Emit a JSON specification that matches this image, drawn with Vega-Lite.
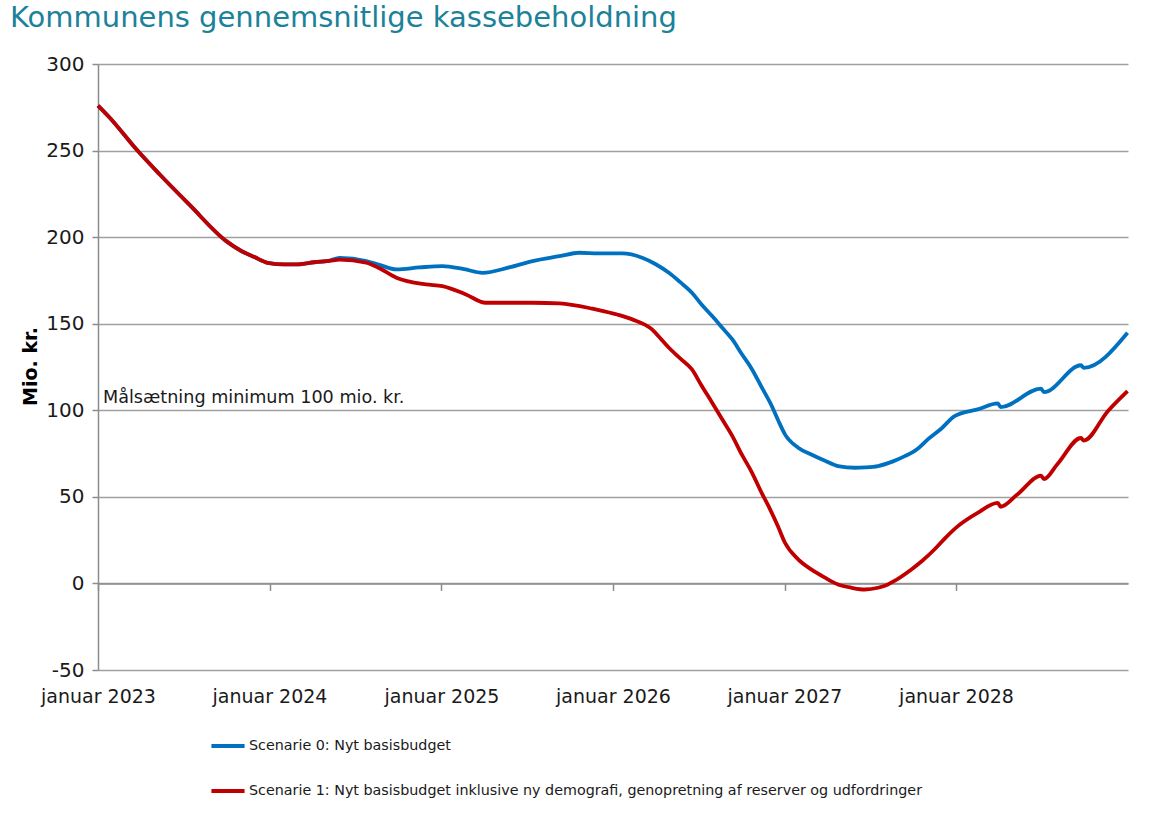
{
  "$schema": "https://vega.github.io/schema/vega-lite/v6.json",
  "autosize": "none",
  "width": 1030,
  "height": 606,
  "padding": {"left": 98, "top": 64, "right": 25, "bottom": 147},
  "background": "white",
  "title": {
    "text": "Kommunens gennemsnitlige kassebeholdning",
    "anchor": "start",
    "frame": "group",
    "font": "DejaVu Sans",
    "fontSize": 29,
    "fontWeight": "normal",
    "color": "#1B8299",
    "baseline": "alphabetic",
    "offset": -2,
    "dx": -88
  },
  "config": {"view": {"stroke": null}, "font": "DejaVu Sans"},
  "datasets": {
    "s0": [
      {"date": "2023-01-01", "scenario": "Scenarie 0: Nyt basisbudget", "value": 276},
      {"date": "2023-01-26", "scenario": "Scenarie 0: Nyt basisbudget", "value": 269},
      {"date": "2023-03-26", "scenario": "Scenarie 0: Nyt basisbudget", "value": 250},
      {"date": "2023-05-12", "scenario": "Scenarie 0: Nyt basisbudget", "value": 236.3},
      {"date": "2023-07-15", "scenario": "Scenarie 0: Nyt basisbudget", "value": 218.6},
      {"date": "2023-10-01", "scenario": "Scenarie 0: Nyt basisbudget", "value": 197.7},
      {"date": "2023-11-02", "scenario": "Scenarie 0: Nyt basisbudget", "value": 192},
      {"date": "2023-11-30", "scenario": "Scenarie 0: Nyt basisbudget", "value": 188.5},
      {"date": "2023-12-28", "scenario": "Scenarie 0: Nyt basisbudget", "value": 185.2},
      {"date": "2024-02-02", "scenario": "Scenarie 0: Nyt basisbudget", "value": 184.3},
      {"date": "2024-03-01", "scenario": "Scenarie 0: Nyt basisbudget", "value": 184.3},
      {"date": "2024-04-05", "scenario": "Scenarie 0: Nyt basisbudget", "value": 185.5},
      {"date": "2024-05-08", "scenario": "Scenarie 0: Nyt basisbudget", "value": 186.5},
      {"date": "2024-05-29", "scenario": "Scenarie 0: Nyt basisbudget", "value": 188},
      {"date": "2024-07-25", "scenario": "Scenarie 0: Nyt basisbudget", "value": 186.2},
      {"date": "2024-08-22", "scenario": "Scenarie 0: Nyt basisbudget", "value": 184},
      {"date": "2024-09-27", "scenario": "Scenarie 0: Nyt basisbudget", "value": 181.4},
      {"date": "2024-11-15", "scenario": "Scenarie 0: Nyt basisbudget", "value": 182.5},
      {"date": "2025-01-03", "scenario": "Scenarie 0: Nyt basisbudget", "value": 183.3},
      {"date": "2025-02-18", "scenario": "Scenarie 0: Nyt basisbudget", "value": 181.5},
      {"date": "2025-03-29", "scenario": "Scenarie 0: Nyt basisbudget", "value": 179.4},
      {"date": "2025-05-25", "scenario": "Scenarie 0: Nyt basisbudget", "value": 182.5},
      {"date": "2025-07-14", "scenario": "Scenarie 0: Nyt basisbudget", "value": 186.2},
      {"date": "2025-09-09", "scenario": "Scenarie 0: Nyt basisbudget", "value": 189},
      {"date": "2025-10-21", "scenario": "Scenarie 0: Nyt basisbudget", "value": 191},
      {"date": "2025-12-02", "scenario": "Scenarie 0: Nyt basisbudget", "value": 190.6},
      {"date": "2026-01-21", "scenario": "Scenarie 0: Nyt basisbudget", "value": 190.6},
      {"date": "2026-03-04", "scenario": "Scenarie 0: Nyt basisbudget", "value": 188.1},
      {"date": "2026-04-01", "scenario": "Scenarie 0: Nyt basisbudget", "value": 184.5},
      {"date": "2026-04-30", "scenario": "Scenarie 0: Nyt basisbudget", "value": 179.4},
      {"date": "2026-05-24", "scenario": "Scenarie 0: Nyt basisbudget", "value": 174},
      {"date": "2026-06-18", "scenario": "Scenarie 0: Nyt basisbudget", "value": 167.9},
      {"date": "2026-07-08", "scenario": "Scenarie 0: Nyt basisbudget", "value": 161.2},
      {"date": "2026-07-31", "scenario": "Scenarie 0: Nyt basisbudget", "value": 154.4},
      {"date": "2026-08-22", "scenario": "Scenarie 0: Nyt basisbudget", "value": 147.5},
      {"date": "2026-09-12", "scenario": "Scenarie 0: Nyt basisbudget", "value": 140.9},
      {"date": "2026-10-02", "scenario": "Scenarie 0: Nyt basisbudget", "value": 132.5},
      {"date": "2026-10-24", "scenario": "Scenarie 0: Nyt basisbudget", "value": 123.6},
      {"date": "2026-11-13", "scenario": "Scenarie 0: Nyt basisbudget", "value": 113.5},
      {"date": "2026-12-05", "scenario": "Scenarie 0: Nyt basisbudget", "value": 102.4},
      {"date": "2026-12-18", "scenario": "Scenarie 0: Nyt basisbudget", "value": 94.5},
      {"date": "2027-01-02", "scenario": "Scenarie 0: Nyt basisbudget", "value": 86.1},
      {"date": "2027-01-30", "scenario": "Scenarie 0: Nyt basisbudget", "value": 78.4},
      {"date": "2027-02-27", "scenario": "Scenarie 0: Nyt basisbudget", "value": 74.5},
      {"date": "2027-03-27", "scenario": "Scenarie 0: Nyt basisbudget", "value": 71},
      {"date": "2027-04-25", "scenario": "Scenarie 0: Nyt basisbudget", "value": 67.8},
      {"date": "2027-05-31", "scenario": "Scenarie 0: Nyt basisbudget", "value": 66.8},
      {"date": "2027-06-21", "scenario": "Scenarie 0: Nyt basisbudget", "value": 67},
      {"date": "2027-07-19", "scenario": "Scenarie 0: Nyt basisbudget", "value": 67.8},
      {"date": "2027-08-20", "scenario": "Scenarie 0: Nyt basisbudget", "value": 70.5},
      {"date": "2027-09-14", "scenario": "Scenarie 0: Nyt basisbudget", "value": 73.5},
      {"date": "2027-10-10", "scenario": "Scenarie 0: Nyt basisbudget", "value": 77.5},
      {"date": "2027-11-02", "scenario": "Scenarie 0: Nyt basisbudget", "value": 83.2},
      {"date": "2027-12-01", "scenario": "Scenarie 0: Nyt basisbudget", "value": 89.5},
      {"date": "2027-12-29", "scenario": "Scenarie 0: Nyt basisbudget", "value": 96.6},
      {"date": "2028-02-16", "scenario": "Scenarie 0: Nyt basisbudget", "value": 100.5},
      {"date": "2028-03-30", "scenario": "Scenarie 0: Nyt basisbudget", "value": 104},
      {"date": "2028-04-05", "scenario": "Scenarie 0: Nyt basisbudget", "value": 101.8},
      {"date": "2028-06-30", "scenario": "Scenarie 0: Nyt basisbudget", "value": 112.5},
      {"date": "2028-07-06", "scenario": "Scenarie 0: Nyt basisbudget", "value": 110.5},
      {"date": "2028-09-23", "scenario": "Scenarie 0: Nyt basisbudget", "value": 126},
      {"date": "2028-09-29", "scenario": "Scenarie 0: Nyt basisbudget", "value": 124.5},
      {"date": "2028-12-31", "scenario": "Scenarie 0: Nyt basisbudget", "value": 144.8}
    ],
    "s1": [
      {"date": "2023-01-01", "scenario": "Scenarie 1: Nyt basisbudget inklusive ny demografi, genopretning af reserver og udfordringer", "value": 276},
      {"date": "2023-01-26", "scenario": "Scenarie 1: Nyt basisbudget inklusive ny demografi, genopretning af reserver og udfordringer", "value": 269},
      {"date": "2023-03-26", "scenario": "Scenarie 1: Nyt basisbudget inklusive ny demografi, genopretning af reserver og udfordringer", "value": 250},
      {"date": "2023-05-12", "scenario": "Scenarie 1: Nyt basisbudget inklusive ny demografi, genopretning af reserver og udfordringer", "value": 236.3},
      {"date": "2023-07-15", "scenario": "Scenarie 1: Nyt basisbudget inklusive ny demografi, genopretning af reserver og udfordringer", "value": 218.6},
      {"date": "2023-10-01", "scenario": "Scenarie 1: Nyt basisbudget inklusive ny demografi, genopretning af reserver og udfordringer", "value": 197.7},
      {"date": "2023-11-02", "scenario": "Scenarie 1: Nyt basisbudget inklusive ny demografi, genopretning af reserver og udfordringer", "value": 192},
      {"date": "2023-11-30", "scenario": "Scenarie 1: Nyt basisbudget inklusive ny demografi, genopretning af reserver og udfordringer", "value": 188.5},
      {"date": "2023-12-28", "scenario": "Scenarie 1: Nyt basisbudget inklusive ny demografi, genopretning af reserver og udfordringer", "value": 185.2},
      {"date": "2024-02-02", "scenario": "Scenarie 1: Nyt basisbudget inklusive ny demografi, genopretning af reserver og udfordringer", "value": 184.3},
      {"date": "2024-03-01", "scenario": "Scenarie 1: Nyt basisbudget inklusive ny demografi, genopretning af reserver og udfordringer", "value": 184.3},
      {"date": "2024-04-05", "scenario": "Scenarie 1: Nyt basisbudget inklusive ny demografi, genopretning af reserver og udfordringer", "value": 185.5},
      {"date": "2024-05-08", "scenario": "Scenarie 1: Nyt basisbudget inklusive ny demografi, genopretning af reserver og udfordringer", "value": 186.3},
      {"date": "2024-05-29", "scenario": "Scenarie 1: Nyt basisbudget inklusive ny demografi, genopretning af reserver og udfordringer", "value": 187},
      {"date": "2024-07-25", "scenario": "Scenarie 1: Nyt basisbudget inklusive ny demografi, genopretning af reserver og udfordringer", "value": 185.2},
      {"date": "2024-08-22", "scenario": "Scenarie 1: Nyt basisbudget inklusive ny demografi, genopretning af reserver og udfordringer", "value": 182},
      {"date": "2024-09-27", "scenario": "Scenarie 1: Nyt basisbudget inklusive ny demografi, genopretning af reserver og udfordringer", "value": 176.6},
      {"date": "2024-11-29", "scenario": "Scenarie 1: Nyt basisbudget inklusive ny demografi, genopretning af reserver og udfordringer", "value": 172.7},
      {"date": "2025-01-03", "scenario": "Scenarie 1: Nyt basisbudget inklusive ny demografi, genopretning af reserver og udfordringer", "value": 171.7},
      {"date": "2025-02-22", "scenario": "Scenarie 1: Nyt basisbudget inklusive ny demografi, genopretning af reserver og udfordringer", "value": 166.9},
      {"date": "2025-04-05", "scenario": "Scenarie 1: Nyt basisbudget inklusive ny demografi, genopretning af reserver og udfordringer", "value": 162.1},
      {"date": "2025-07-14", "scenario": "Scenarie 1: Nyt basisbudget inklusive ny demografi, genopretning af reserver og udfordringer", "value": 162.1},
      {"date": "2025-09-09", "scenario": "Scenarie 1: Nyt basisbudget inklusive ny demografi, genopretning af reserver og udfordringer", "value": 161.7},
      {"date": "2025-11-18", "scenario": "Scenarie 1: Nyt basisbudget inklusive ny demografi, genopretning af reserver og udfordringer", "value": 158.7},
      {"date": "2025-12-02", "scenario": "Scenarie 1: Nyt basisbudget inklusive ny demografi, genopretning af reserver og udfordringer", "value": 157.9},
      {"date": "2026-01-10", "scenario": "Scenarie 1: Nyt basisbudget inklusive ny demografi, genopretning af reserver og udfordringer", "value": 155.3},
      {"date": "2026-02-11", "scenario": "Scenarie 1: Nyt basisbudget inklusive ny demografi, genopretning af reserver og udfordringer", "value": 152.5},
      {"date": "2026-03-25", "scenario": "Scenarie 1: Nyt basisbudget inklusive ny demografi, genopretning af reserver og udfordringer", "value": 146.7},
      {"date": "2026-04-12", "scenario": "Scenarie 1: Nyt basisbudget inklusive ny demografi, genopretning af reserver og udfordringer", "value": 141.5},
      {"date": "2026-04-30", "scenario": "Scenarie 1: Nyt basisbudget inklusive ny demografi, genopretning af reserver og udfordringer", "value": 136.1},
      {"date": "2026-05-24", "scenario": "Scenarie 1: Nyt basisbudget inklusive ny demografi, genopretning af reserver og udfordringer", "value": 130},
      {"date": "2026-06-18", "scenario": "Scenarie 1: Nyt basisbudget inklusive ny demografi, genopretning af reserver og udfordringer", "value": 123.6},
      {"date": "2026-07-08", "scenario": "Scenarie 1: Nyt basisbudget inklusive ny demografi, genopretning af reserver og udfordringer", "value": 114.5},
      {"date": "2026-07-31", "scenario": "Scenarie 1: Nyt basisbudget inklusive ny demografi, genopretning af reserver og udfordringer", "value": 104.4},
      {"date": "2026-08-22", "scenario": "Scenarie 1: Nyt basisbudget inklusive ny demografi, genopretning af reserver og udfordringer", "value": 94.5},
      {"date": "2026-09-12", "scenario": "Scenarie 1: Nyt basisbudget inklusive ny demografi, genopretning af reserver og udfordringer", "value": 85.1},
      {"date": "2026-10-02", "scenario": "Scenarie 1: Nyt basisbudget inklusive ny demografi, genopretning af reserver og udfordringer", "value": 74.5},
      {"date": "2026-10-24", "scenario": "Scenarie 1: Nyt basisbudget inklusive ny demografi, genopretning af reserver og udfordringer", "value": 63.9},
      {"date": "2026-11-13", "scenario": "Scenarie 1: Nyt basisbudget inklusive ny demografi, genopretning af reserver og udfordringer", "value": 52.5},
      {"date": "2026-11-28", "scenario": "Scenarie 1: Nyt basisbudget inklusive ny demografi, genopretning af reserver og udfordringer", "value": 44.6},
      {"date": "2026-12-18", "scenario": "Scenarie 1: Nyt basisbudget inklusive ny demografi, genopretning af reserver og udfordringer", "value": 33},
      {"date": "2027-01-02", "scenario": "Scenarie 1: Nyt basisbudget inklusive ny demografi, genopretning af reserver og udfordringer", "value": 23.5},
      {"date": "2027-01-30", "scenario": "Scenarie 1: Nyt basisbudget inklusive ny demografi, genopretning af reserver og udfordringer", "value": 13.9},
      {"date": "2027-02-27", "scenario": "Scenarie 1: Nyt basisbudget inklusive ny demografi, genopretning af reserver og udfordringer", "value": 8.1},
      {"date": "2027-03-27", "scenario": "Scenarie 1: Nyt basisbudget inklusive ny demografi, genopretning af reserver og udfordringer", "value": 3.5},
      {"date": "2027-04-25", "scenario": "Scenarie 1: Nyt basisbudget inklusive ny demografi, genopretning af reserver og udfordringer", "value": -0.6},
      {"date": "2027-05-24", "scenario": "Scenarie 1: Nyt basisbudget inklusive ny demografi, genopretning af reserver og udfordringer", "value": -2.5},
      {"date": "2027-06-21", "scenario": "Scenarie 1: Nyt basisbudget inklusive ny demografi, genopretning af reserver og udfordringer", "value": -3.5},
      {"date": "2027-07-19", "scenario": "Scenarie 1: Nyt basisbudget inklusive ny demografi, genopretning af reserver og udfordringer", "value": -2.5},
      {"date": "2027-08-09", "scenario": "Scenarie 1: Nyt basisbudget inklusive ny demografi, genopretning af reserver og udfordringer", "value": -0.6},
      {"date": "2027-08-20", "scenario": "Scenarie 1: Nyt basisbudget inklusive ny demografi, genopretning af reserver og udfordringer", "value": 1},
      {"date": "2027-09-28", "scenario": "Scenarie 1: Nyt basisbudget inklusive ny demografi, genopretning af reserver og udfordringer", "value": 8.1},
      {"date": "2027-10-20", "scenario": "Scenarie 1: Nyt basisbudget inklusive ny demografi, genopretning af reserver og udfordringer", "value": 12.8},
      {"date": "2027-11-16", "scenario": "Scenarie 1: Nyt basisbudget inklusive ny demografi, genopretning af reserver og udfordringer", "value": 19.6},
      {"date": "2027-12-10", "scenario": "Scenarie 1: Nyt basisbudget inklusive ny demografi, genopretning af reserver og udfordringer", "value": 26.5},
      {"date": "2028-01-05", "scenario": "Scenarie 1: Nyt basisbudget inklusive ny demografi, genopretning af reserver og udfordringer", "value": 33.1},
      {"date": "2028-02-16", "scenario": "Scenarie 1: Nyt basisbudget inklusive ny demografi, genopretning af reserver og udfordringer", "value": 40.8},
      {"date": "2028-03-30", "scenario": "Scenarie 1: Nyt basisbudget inklusive ny demografi, genopretning af reserver og udfordringer", "value": 46.5},
      {"date": "2028-04-05", "scenario": "Scenarie 1: Nyt basisbudget inklusive ny demografi, genopretning af reserver og udfordringer", "value": 44.3},
      {"date": "2028-05-11", "scenario": "Scenarie 1: Nyt basisbudget inklusive ny demografi, genopretning af reserver og udfordringer", "value": 51.5},
      {"date": "2028-06-30", "scenario": "Scenarie 1: Nyt basisbudget inklusive ny demografi, genopretning af reserver og udfordringer", "value": 62.3},
      {"date": "2028-07-06", "scenario": "Scenarie 1: Nyt basisbudget inklusive ny demografi, genopretning af reserver og udfordringer", "value": 60.3},
      {"date": "2028-08-04", "scenario": "Scenarie 1: Nyt basisbudget inklusive ny demografi, genopretning af reserver og udfordringer", "value": 69},
      {"date": "2028-09-23", "scenario": "Scenarie 1: Nyt basisbudget inklusive ny demografi, genopretning af reserver og udfordringer", "value": 84},
      {"date": "2028-09-29", "scenario": "Scenarie 1: Nyt basisbudget inklusive ny demografi, genopretning af reserver og udfordringer", "value": 82.5},
      {"date": "2028-11-19", "scenario": "Scenarie 1: Nyt basisbudget inklusive ny demografi, genopretning af reserver og udfordringer", "value": 99.5},
      {"date": "2028-12-31", "scenario": "Scenarie 1: Nyt basisbudget inklusive ny demografi, genopretning af reserver og udfordringer", "value": 111.1}
    ],
    "target": [
      {"date": "2023-01-01", "value": 100, "label": "Målsætning minimum 100 mio. kr."}
    ]
  },
  "encoding": {
    "x": {
      "field": "date",
      "type": "temporal",
      "scale": {"type": "utc", "domain": [{"year": 2023, "month": 1, "date": 1, "utc": true}, {"year": 2029, "month": 1, "date": 1, "utc": true}]},
      "axis": {
        "title": null,
        "offset": -86.6,
        "values": [
          {"year": 2023, "month": 1, "date": 1, "utc": true},
          {"year": 2024, "month": 1, "date": 1, "utc": true},
          {"year": 2025, "month": 1, "date": 1, "utc": true},
          {"year": 2026, "month": 1, "date": 1, "utc": true},
          {"year": 2027, "month": 1, "date": 1, "utc": true},
          {"year": 2028, "month": 1, "date": 1, "utc": true}
        ],
        "labelExpr": "'januar ' + utcyear(datum.value)",
        "labelFontSize": 19,
        "labelColor": "#1a1a1a",
        "labelPadding": 97,
        "labelFlush": false,
        "labelOverlap": false,
        "tickSize": 7,
        "tickWidth": 1.5,
        "tickColor": "#8c8c8c",
        "domainColor": "#8c8c8c",
        "domainWidth": 1.5,
        "grid": false
      }
    },
    "y": {
      "field": "value",
      "type": "quantitative",
      "scale": {"domain": [-50, 300], "nice": false, "zero": false},
      "axis": {
        "values": [-50, 0, 50, 100, 150, 200, 250, 300],
        "labelExpr": "'' + datum.value",
        "title": "Mio. kr.",
        "titleFontSize": 19,
        "titleFontWeight": "bold",
        "titleColor": "black",
        "titleX": -68,
        "titleY": 302,
        "titleAngle": -90,
        "titleBaseline": "middle",
        "titleAlign": "center",
        "labelFontSize": 20,
        "labelColor": "#1a1a1a",
        "labelPadding": 8,
        "tickSize": 6,
        "tickWidth": 1.5,
        "tickColor": "#8c8c8c",
        "domainColor": "#8c8c8c",
        "domainWidth": 1.5,
        "grid": true,
        "gridColor": "#a0a0a0",
        "gridWidth": 1.5
      }
    }
  },
  "layer": [
    {
      "data": {"name": "s0"},
      "mark": {"type": "line", "strokeWidth": 3.8, "interpolate": "monotone"},
      "encoding": {
        "color": {
          "field": "scenario",
          "type": "nominal",
          "scale": {
            "domain": ["Scenarie 0: Nyt basisbudget", "Scenarie 1: Nyt basisbudget inklusive ny demografi, genopretning af reserver og udfordringer"],
            "range": ["#0070C0", "#C00000"]
          },
          "legend": {
            "orient": "none",
            "legendX": 111,
            "legendY": 663,
            "direction": "vertical",
            "title": null,
            "symbolType": "stroke",
            "symbolSize": 1100,
            "symbolStrokeWidth": 4,
            "labelFontSize": 14.3,
            "labelColor": "#1a1a1a",
            "labelLimit": 900,
            "labelOffset": 2,
            "rowPadding": 18
          }
        }
      }
    },
    {
      "data": {"name": "s1"},
      "mark": {"type": "line", "strokeWidth": 3.8, "interpolate": "monotone"},
      "encoding": {
        "color": {
          "field": "scenario",
          "type": "nominal",
          "scale": {
            "domain": ["Scenarie 0: Nyt basisbudget", "Scenarie 1: Nyt basisbudget inklusive ny demografi, genopretning af reserver og udfordringer"],
            "range": ["#0070C0", "#C00000"]
          },
          "legend": {
            "orient": "none",
            "legendX": 111,
            "legendY": 663,
            "direction": "vertical",
            "title": null,
            "symbolType": "stroke",
            "symbolSize": 1100,
            "symbolStrokeWidth": 4,
            "labelFontSize": 14.3,
            "labelColor": "#1a1a1a",
            "labelLimit": 900,
            "labelOffset": 2,
            "rowPadding": 18
          }
        }
      }
    },
    {
      "mark": {"type": "rule", "color": "black", "strokeWidth": 4},
      "encoding": {"y": {"datum": 100}, "x": null}
    },
    {
      "data": {"name": "target"},
      "mark": {"type": "text", "align": "left", "baseline": "alphabetic", "dx": 5, "dy": -7, "fontSize": 17.6, "color": "#1a1a1a"},
      "encoding": {
        "text": {"field": "label"}
      }
    }
  ]
}
